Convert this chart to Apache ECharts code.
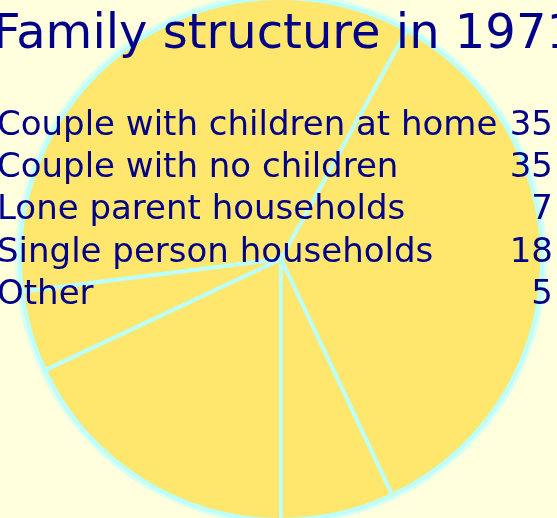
<!DOCTYPE html>
<html>
<head>
<meta charset="utf-8">
<script src="https://cdn.jsdelivr.net/npm/echarts@6/dist/echarts.min.js"></script>
<style>
  html, body { margin: 0; padding: 0; background: #fffedd; }
  #chart { width: 557px; height: 518px; }
</style>
</head>
<body>
<div id="chart"></div>
<script>
const titleText = 'Family structure in 1971'
const categories = ['Couple with children at home', 'Couple with no children', 'Lone parent households', 'Single person households', 'Other']
const values = [35, 35, 7, 18, 5]

const chart = echarts.init(document.getElementById('chart'))
const textColor = '#000088'
const font = '"DejaVu Sans", Verdana, sans-serif'

// table of names and values drawn over the pie
const rows = []
categories.forEach((c, i) => {
  const top = 109 + i * 42.3
  rows.push({
    type: 'text', left: -3, top: top, silent: true, z: 10,
    style: { text: c, fill: textColor, font: '34px ' + font }
  })
  rows.push({
    type: 'text', right: 4, top: top, silent: true, z: 10,
    style: { text: String(values[i]), fill: textColor, font: '34px ' + font, textAlign: 'right' }
  })
})

chart.setOption({
  backgroundColor: '#fffedd',
  animation: false,
  title: {
    text: titleText,
    left: -12,
    top: 7,
    textStyle: { color: textColor, fontFamily: font, fontSize: 48, fontWeight: 'normal' }
  },
  graphic: rows,
  series: [
    {
      // pale outer rim
      type: 'pie',
      center: [281, 259],
      radius: [0, 266],
      silent: true,
      label: { show: false },
      labelLine: { show: false },
      itemStyle: { color: '#dcfff2' },
      data: [{ name: 'rim', value: 1 }]
    },
    {
      type: 'pie',
      center: [281, 259],
      radius: [0, 261],
      startAngle: 187.2,
      silent: true,
      label: { show: false },
      labelLine: { show: false },
      itemStyle: { color: '#ffe66c', borderColor: '#bcfffb', borderWidth: 4 },
      data: categories.map((c, i) => ({ name: c, value: values[i] }))
    }
  ]
})
</script>
</body>
</html>
